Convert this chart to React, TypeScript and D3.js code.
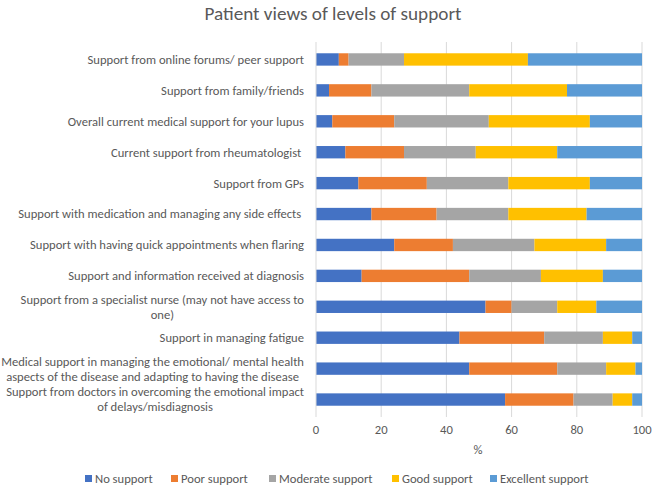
import React, { useEffect, useRef } from 'react';
import * as d3 from 'd3';

// categories top to bottom, "\n" marks where the original label wraps
const categories = [
  'Support from online forums/ peer support',
  'Support from family/friends',
  'Overall current medical support for your lupus',
  'Current support from rheumatologist ',
  'Support from GPs',
  'Support with medication and managing any side effects ',
  'Support with having quick appointments when flaring',
  'Support and information received at diagnosis',
  'Support from a specialist nurse (may not have access to\none)',
  'Support in managing fatigue',
  'Medical support in managing the emotional/ mental health\naspects of the disease and adapting to having the disease',
  'Support from doctors in overcoming the emotional impact\nof delays/misdiagnosis',
];

const seriesNames = ['No support', 'Poor support', 'Moderate support', 'Good support', 'Excellent support'];
const noSupport = [7, 4, 5, 9, 13, 17, 24, 14, 52, 44, 47, 58];
const poorSupport = [3, 13, 19, 18, 21, 20, 18, 33, 8, 26, 27, 21];
const moderateSupport = [17, 30, 29, 22, 25, 22, 25, 22, 14, 18, 15, 12];
const goodSupport = [38, 30, 31, 25, 25, 24, 22, 19, 12, 9, 9, 6];
const excellentSupport = [35, 23, 16, 26, 16, 17, 11, 12, 14, 3, 2, 3];
const xTicks = [0, 20, 40, 60, 80, 100];

const colors = ['#4472C4', '#ED7D31', '#A5A5A5', '#FFC000', '#5B9BD5'];
const font = "Calibri, Carlito, 'Liberation Sans', Arial, sans-serif";

export default function App() {
  const ref = useRef<SVGSVGElement>(null);

  useEffect(() => {
    const svg = d3.select(ref.current);
    svg.selectAll('*').remove();

    const rows = categories.map((c, i) => ({
      cat: c,
      'No support': noSupport[i],
      'Poor support': poorSupport[i],
      'Moderate support': moderateSupport[i],
      'Good support': goodSupport[i],
      'Excellent support': excellentSupport[i],
    }));

    const x = d3.scaleLinear().domain([0, 100]).range([316, 642]);
    const y = d3.scaleBand().domain(categories).range([44, 415]).paddingInner(0.6).paddingOuter(0.3);
    const color = d3.scaleOrdinal<string>().domain(seriesNames).range(colors);

    // title
    svg.append('text')
      .attr('x', 333).attr('y', 20)
      .attr('text-anchor', 'middle')
      .attr('font-family', font).attr('font-size', 19.2)
      .attr('fill', '#595959')
      .text('Patient views of levels of support');

    // gridlines
    svg.append('g').selectAll('line')
      .data(xTicks.slice(1))
      .join('line')
      .attr('x1', d => x(d)).attr('x2', d => x(d))
      .attr('y1', 42).attr('y2', 417)
      .attr('stroke', '#d9d9d9').attr('stroke-width', 1);

    const stack = d3.stack<any>().keys(seriesNames);
    const layers = stack(rows);

    svg.append('g').selectAll('g')
      .data(layers)
      .join('g')
      .attr('fill', d => color(d.key))
      .selectAll('rect')
      .data(d => d)
      .join('rect')
      .attr('x', d => x(d[0]))
      .attr('width', d => x(d[1]) - x(d[0]))
      .attr('y', d => y(d.data.cat)!)
      .attr('height', y.bandwidth());

    // vertical axis line
    svg.append('line')
      .attr('x1', x(0)).attr('x2', x(0))
      .attr('y1', 42).attr('y2', 417)
      .attr('stroke', '#d9d9d9');

    // category labels
    const labelRight = 304;
    const lineH = 15;
    const lg = svg.append('g')
      .attr('font-family', font).attr('font-size', 12.6)
      .attr('fill', '#595959');
    categories.forEach(c => {
      const lines = c.split('\n');
      const cy = y(c)! + y.bandwidth() / 2;
      const t = lg.append('text')
        .attr('text-anchor', 'end')
        .style('white-space', 'pre');
      const spans = lines.map((ln, j) =>
        t.append('tspan')
          .attr('x', labelRight)
          .attr('y', cy + (j - (lines.length - 1) / 2) * lineH)
          .attr('dy', '0.35em')
          .text(ln)
      );
      if (lines.length > 1) {
        const widths = spans.map(s => (s.node() as SVGTSpanElement).getComputedTextLength());
        const maxW = d3.max(widths)!;
        const mid = labelRight - maxW / 2;
        spans.forEach(s => s.attr('text-anchor', 'middle').attr('x', mid));
      }
    });

    // x tick labels
    svg.append('g')
      .attr('font-family', font).attr('font-size', 12.6)
      .attr('fill', '#595959')
      .selectAll('text')
      .data(xTicks)
      .join('text')
      .attr('x', d => x(d))
      .attr('y', 430)
      .attr('dy', '0.35em')
      .attr('text-anchor', 'middle')
      .text(d => d);

    svg.append('text')
      .attr('x', 478).attr('y', 450)
      .attr('dy', '0.35em')
      .attr('text-anchor', 'middle')
      .attr('font-family', font).attr('font-size', 12.6)
      .attr('fill', '#595959')
      .text('%');

    // legend
    const legendX = [85, 171, 269, 392, 490];
    const leg = svg.append('g')
      .attr('font-family', font).attr('font-size', 12.6)
      .attr('fill', '#595959');
    seriesNames.forEach((s, i) => {
      leg.append('rect')
        .attr('x', legendX[i]).attr('y', 475)
        .attr('width', 7).attr('height', 7)
        .attr('fill', color(s));
      leg.append('text')
        .attr('x', legendX[i] + 10).attr('y', 478.5)
        .attr('dy', '0.35em')
        .text(s);
    });
  }, []);

  return (
    <svg ref={ref} width={655} height={489}
      style={{ position: 'absolute', left: 0, top: 0, background: '#fff' }} />
  );
}
